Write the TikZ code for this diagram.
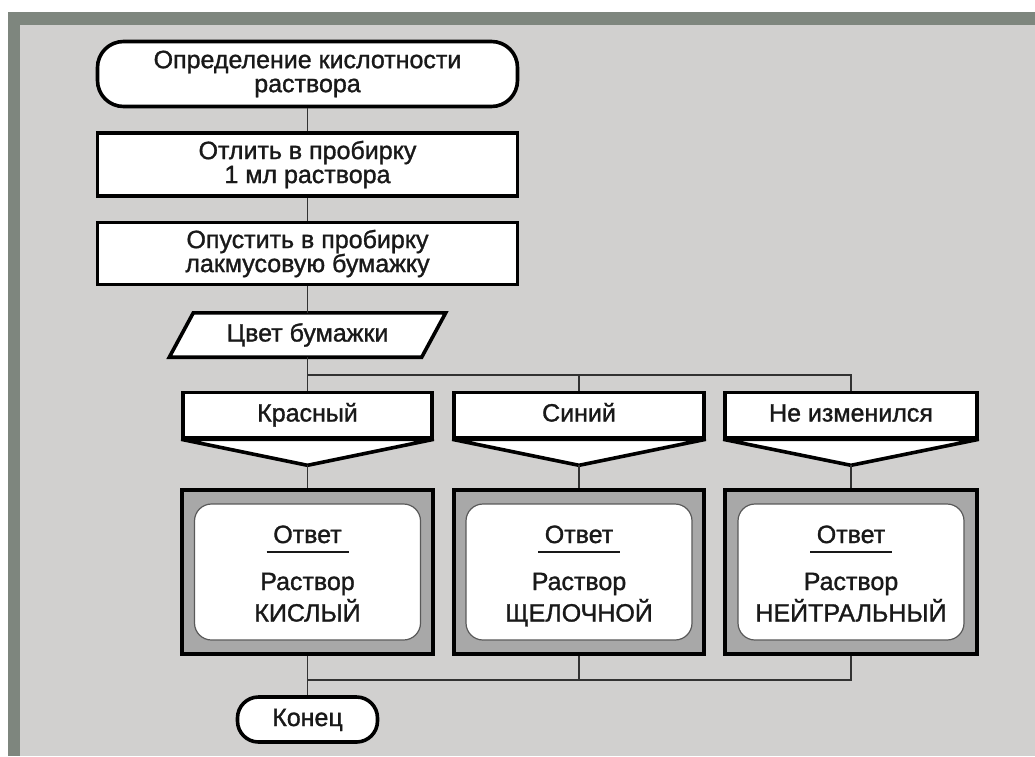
\documentclass[tikz,border=0pt]{standalone}
\usepackage{fontspec}
\setmainfont[RawFeature={embolden=1.2}]{Liberation Sans}
\usetikzlibrary{calc}
\definecolor{paper}{RGB}{209,208,207}
\definecolor{frame}{RGB}{126,134,126}
\definecolor{panel}{RGB}{168,168,168}
\definecolor{ink}{RGB}{25,25,25}
\definecolor{wire}{RGB}{50,50,50}
\begin{document}
\begin{tikzpicture}[x=1pt,y=-1pt,
  every node/.style={text=ink, font=\fontsize{25}{24}\selectfont, align=center, inner sep=0pt},
  oneline/.style={text height=18pt, text depth=5pt},
  heavy/.style={draw=black, line width=3.6pt, fill=white},
  term/.style={heavy, rounded corners=26pt},
  proc/.style={heavy, rectangle},
  bare/.style={rectangle},
  answer/.style={draw=black, line width=4pt, fill=panel, rectangle},
  card/.style={draw=gray!70!black, line width=1.2pt, fill=white, rounded corners=17pt, minimum width=226pt, minimum height=136pt},
  wired/.style={draw=wire, line width=1.8pt},
]
\useasboundingbox (0,0) rectangle (1035,756);
% page frame
\fill[white] (0,0) rectangle (1035,756);
\fill[frame] (8,12) rectangle (1035,756);
\fill[paper] (20,25) rectangle (1035,756);

% main column
\node[term, minimum width=420pt, minimum height=65pt] (start) at (307.5,74)
  {Определение кислотности\\раствора};
\node[proc, minimum width=420pt, minimum height=63pt] (pour) at (307.5,164.5)
  {Отлить в пробирку\\1 мл раствора};
\node[proc, minimum width=420pt, minimum height=62pt] (dip) at (307.5,253.5)
  {Опустить в пробирку\\лакмусовую бумажку};
\node[bare, oneline, minimum width=252pt, minimum height=44pt] (io) at (307.5,335) {\phantom{Цвет бумажки}};
\draw[heavy, line join=miter]
  ($(io.south west)+(-12,0)$) -- ($(io.north west)+(12,0)$) --
  ($(io.north east)+(12,0)$) -- ($(io.south east)+(-12,0)$) -- cycle;
\node[oneline] (iotext) at (io.center) {Цвет бумажки};

% branch labels with their pointers
\node[proc, oneline, minimum width=249pt, minimum height=45pt] (red) at (307.5,415) {Красный};
\node[proc, oneline, minimum width=250pt, minimum height=45pt] (blue) at (579,415) {Синий};
\node[proc, oneline, minimum width=252pt, minimum height=45pt] (same) at (851,415) {Не изменился};
\foreach \b in {red,blue,same}{
  \coordinate (\b tip) at ($(\b.south)+(0,26)$);
  \draw[heavy, line join=bevel] (\b.south west) -- (\b tip) -- (\b.south east) -- cycle;
}

% answer panels
\node[answer, minimum width=251pt, minimum height=164pt] (acid) at (307.5,572) {};
\node[answer, minimum width=250pt, minimum height=164pt] (base) at (579,572) {};
\node[answer, minimum width=252pt, minimum height=164pt] (neut) at (851,572) {};
\node[card] (acidcard) at (acid.center) {};
\node[card] (basecard) at (base.center) {};
\node[card] (neutcard) at (neut.center) {};
\foreach \p/\w in {acid/КИСЛЫЙ, base/ЩЕЛОЧНОЙ, neut/НЕЙТРАЛЬНЫЙ}{
  \node[anchor=base] (\p head) at ($(\p.center)+(0,-29)$) {Ответ};
  \draw[draw=ink, line width=1.8pt] ($(\p.center)+(-41,-20)$) -- ($(\p.center)+(41,-20)$);
  \node[anchor=base] (\p line) at ($(\p.center)+(0,18)$) {Раствор};
  \node[anchor=base] (\p word) at ($(\p.center)+(0,49.5)$) {\w};
}

\node[term, oneline, rounded corners=21pt, minimum width=140pt, minimum height=45pt] (stop) at (307.5,719.5) {Конец};

% connectors
\coordinate (fork) at (io.south |- 0,375);
\coordinate (join) at (acid.south |- 0,680);
\draw[wired] (start) -- (pour);
\draw[wired] (pour) -- (dip);
\draw[wired] (dip) -- (io.north);
\draw[wired] (io.south) -- (red.north);
\draw[wired] (fork) -| (same.north);
\draw[wired] (fork -| blue.north) -- (blue.north);
\draw[wired] (redtip) -- (acid.north);
\draw[wired] (bluetip) -- (base.north);
\draw[wired] (sametip) -- (neut.north);
\draw[wired] (acid.south) -- (stop.north);
\draw[wired] (join) -| (neut.south);
\draw[wired] (base.south) -- (base.south |- join);
\end{tikzpicture}
\end{document}
